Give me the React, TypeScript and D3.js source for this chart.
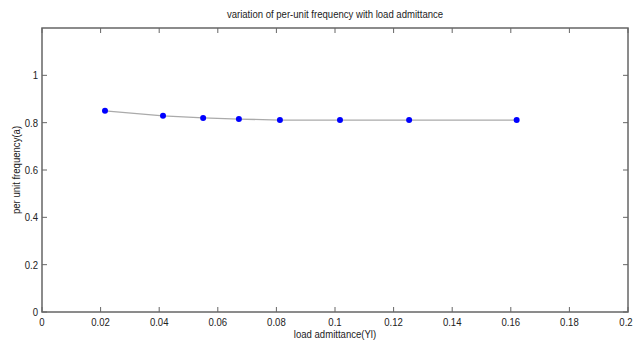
import React from 'react'
import * as d3 from 'd3'

const admittance = [0.0215, 0.0413, 0.055, 0.0672, 0.0812, 0.1017, 0.1253, 0.162]
const frequency = [0.85, 0.829, 0.82, 0.815, 0.811, 0.811, 0.811, 0.811]
const xTicks = [0, 0.02, 0.04, 0.06, 0.08, 0.1, 0.12, 0.14, 0.16, 0.18, 0.2]
const yTicks = [0, 0.2, 0.4, 0.6, 0.8, 1]

const width = 634
const height = 345
const margin = { top: 28, right: 6, bottom: 33, left: 42 }
const font = '"Liberation Sans", Arial, sans-serif'

// MATLAB-ish condensed label
const Label = ({ x, y, anchor = 'middle', rotate = 0, children }: any) => (
  <text
    transform={`translate(${x}, ${y}) rotate(${rotate}) scale(0.87, 1)`}
    textAnchor={anchor}
    fontSize={11}
    fill="#222"
  >
    {children}
  </text>
)

export default function App() {
  const x = d3.scaleLinear().domain([0, 0.2]).range([margin.left, width - margin.right])
  const y = d3.scaleLinear().domain([0, 1.2]).range([height - margin.bottom, margin.top])
  const line = d3
    .line<number>()
    .x((_, i) => x(admittance[i]))
    .y(d => y(d))

  const axisColor = '#666'
  const x0 = x(0)
  const x1 = x(0.2)
  const y0 = y(0)
  const y1 = y(1.2)

  return (
    <svg
      width={width}
      height={height}
      style={{ position: 'absolute', left: 0, top: 0, background: '#fff', fontFamily: font }}
    >
      <rect x={0} y={0} width={width} height={height} fill="#fff" />
      {/* plot box */}
      <rect x={x0} y={y1} width={x1 - x0} height={y0 - y1} fill="none" stroke={axisColor} strokeWidth={1.5} />

      {xTicks.map(t => (
        <g key={'x' + t}>
          <line x1={x(t)} x2={x(t)} y1={y0} y2={y0 - 5} stroke={axisColor} />
          <line x1={x(t)} x2={x(t)} y1={y1} y2={y1 + 5} stroke={axisColor} />
          <Label x={t === 0.2 ? x(t) - 2 : x(t)} y={y0 + 14}>
            {d3.format('~g')(t)}
          </Label>
        </g>
      ))}

      {yTicks.map(t => (
        <g key={'y' + t}>
          <line x1={x0} x2={x0 + 5} y1={y(t)} y2={y(t)} stroke={axisColor} />
          <line x1={x1} x2={x1 - 5} y1={y(t)} y2={y(t)} stroke={axisColor} />
          <Label x={x0 - 4} y={y(t) + 4} anchor="end">
            {d3.format('~g')(t)}
          </Label>
        </g>
      ))}

      <path d={line(frequency) || ''} fill="none" stroke="#aaa" strokeWidth={1.3} />
      {frequency.map((v, i) => (
        <circle key={i} cx={x(admittance[i])} cy={y(v)} r={3} fill="#0000ff" />
      ))}

      <Label x={(x0 + x1) / 2} y={18}>
        variation of per-unit frequency with load admittance
      </Label>
      <Label x={(x0 + x1) / 2} y={338}>
        load admittance(Yl)
      </Label>
      <Label x={20} y={(y0 + y1) / 2} rotate={-90}>
        per unit frequency(a)
      </Label>
    </svg>
  )
}
